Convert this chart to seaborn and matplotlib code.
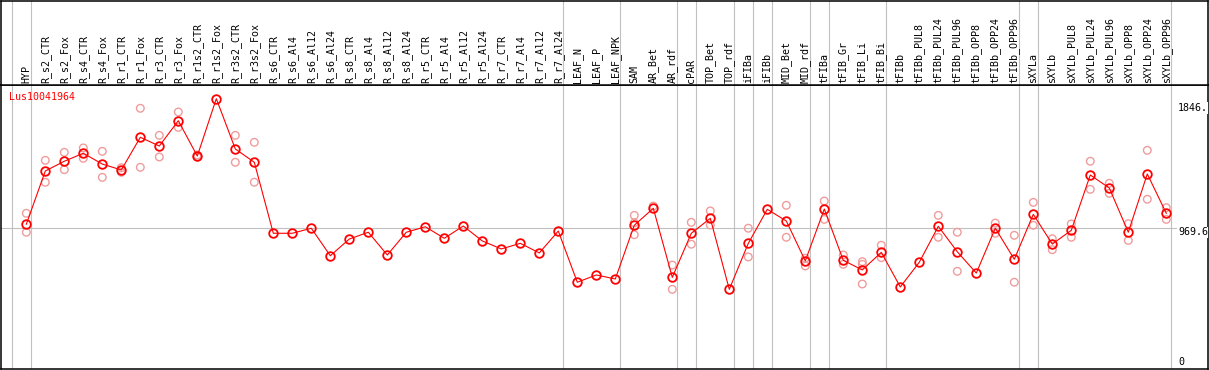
import numpy as np
import pandas as pd
import matplotlib
matplotlib.use("Agg")
import matplotlib.pyplot as plt
import seaborn as sns

# ---------------- data ----------------
categories = [
    "HYP", "R_s2_CTR", "R_s2_Fox", "R_s4_CTR", "R_s4_Fox", "R_r1_CTR", "R_r1_Fox",
    "R_r3_CTR", "R_r3_Fox", "R_r1s2_CTR", "R_r1s2_Fox", "R_r3s2_CTR", "R_r3s2_Fox",
    "R_s6_CTR", "R_s6_Al4", "R_s6_Al12", "R_s6_Al24", "R_s8_CTR", "R_s8_Al4",
    "R_s8_Al12", "R_s8_Al24", "R_r5_CTR", "R_r5_Al4", "R_r5_Al12", "R_r5_Al24",
    "R_r7_CTR", "R_r7_Al4", "R_r7_Al12", "R_r7_Al24", "LEAF_N", "LEAF_P", "LEAF_NPK",
    "SAM", "AR_Bet", "AR_rdf", "cPAR", "TOP_Bet", "TOP_rdf", "iFIBa", "iFIBb",
    "MID_Bet", "MID_rdf", "tFIBa", "tFIB_Gr", "tFIB_Li", "tFIB_Bi", "tFIBb",
    "tFIBb_PUL8", "tFIBb_PUL24", "tFIBb_PUL96", "tFIBb_OPP8", "tFIBb_OPP24",
    "tFIBb_OPP96", "sXYLa", "sXYLb", "sXYLb_PUL8", "sXYLb_PUL24", "sXYLb_PUL96",
    "sXYLb_OPP8", "sXYLb_OPP24", "sXYLb_OPP96",
]

mean_values = [
    997, 1357, 1423, 1477, 1404, 1364, 1585, 1526, 1697, 1458, 1846, 1506, 1416,
    936, 936, 970, 784, 897, 943, 789, 943, 980, 902, 985, 884, 830, 868, 803, 951,
    605, 654, 627,
    990, 1105, 638, 936, 1037, 557, 868, 1098, 1019, 749, 1100, 753, 688, 807, 573,
    740, 983, 811, 667, 970, 760,
    1064, 863, 956, 1330, 1242, 943, 1337, 1071,
]

replicate_values = [
    [1071, 943], [1429, 1281], [1483, 1366], [1513, 1443], [1490, 1314],
    [1379, 1348], [1781, 1382], [1598, 1452], [1756, 1652], [1465, 1452],
    [], [1598, 1416], [1551, 1281],
    [], [], [], [], [], [], [], [], [], [], [], [], [], [], [], [],
    [], [], [],
    [1057, 1007, 926], [1120], [721, 557], [1010, 862], [1087, 992], [],
    [970, 776], [], [1125, 909], [767, 715], [1154, 1030], [789, 726],
    [744, 726, 593], [855, 771], [],
    [], [1057, 909], [943, 679], [], [1005, 936], [922, 605],
    [1145, 990], [899, 825], [999, 909], [1423, 1233], [1274, 1206],
    [1001, 888], [1497, 1166], [1109, 1030],
]

group_ends = ["HYP", "R_r7_Al24", "LEAF_NPK", "AR_rdf", "cPAR", "TOP_rdf", "iFIBa",
              "iFIBb", "MID_rdf", "tFIBa", "tFIB_Bi", "tFIBb_OPP96", "sXYLa",
              "sXYLb_OPP96"]

gene_label = "Lus10041964"
scale_values = [1846, 969.6, 0]
scale_labels = ["1846.", "969.6", "0"]
reference_value = 969.6

# ---------------- frames ----------------
pos = np.arange(len(categories))
df_mean = pd.DataFrame({"pos": pos, "value": mean_values})
rep_pos, rep_val = [], []
for i, reps in enumerate(replicate_values):
    for r in reps:
        rep_pos.append(i)
        rep_val.append(r)
df_rep = pd.DataFrame({"pos": rep_pos, "value": rep_val})

# ---------------- layout ----------------
W, H, DPI = 1209, 370, 100
fig = plt.figure(figsize=(W / DPI, H / DPI), dpi=DPI)
fig.patch.set_facecolor("white")

left_px, right_px, top_px, div_px, bot_px = 1, 1208, 1, 85, 369
ax = fig.add_axes([left_px / W, (H - bot_px) / H, (right_px - left_px) / W, (bot_px - div_px) / H])
hax = fig.add_axes([left_px / W, (H - div_px) / H, (right_px - left_px) / W, (div_px - top_px) / H], sharex=ax)

mono = "DejaVu Sans Mono"
fs = 7.2
grid_c = "#c0c0c0"
pink = "#f09c9c"
red = "#ff0000"

xlim = (-1.332, 62.195)
ylim = (18.3, 1938.5)

# grid lines
for name in group_ends + ["__start__"]:
    if name == "__start__":
        xb = -1 + 0.23
    else:
        xb = categories.index(name) + 0.23
    ax.axvline(xb, color=grid_c, lw=0.8, zorder=0)
    hax.axvline(xb, color=grid_c, lw=0.8, zorder=0)
ax.axhline(reference_value, color=grid_c, lw=0.8, zorder=0)

# replicates
sns.scatterplot(data=df_rep, x="pos", y="value", ax=ax, marker="o", s=30,
                fc="none", ec=pink, linewidth=1.0, zorder=2, legend=False)
# mean line
sns.lineplot(data=df_mean, x="pos", y="value", ax=ax, color=red, linewidth=0.8,
             marker="o", markersize=6.2, markerfacecolor="none",
             markeredgecolor=red, markeredgewidth=1.3, errorbar=None,
             zorder=3, legend=False)

ax.set_xlim(*xlim)
ax.set_ylim(*ylim)
ax.set_xticks([])
ax.set_yticks([])
ax.set_xlabel("")
ax.set_ylabel("")
hax.set_ylim(0, 1)
hax.set_yticks([])
hax.tick_params(axis="x", which="both", bottom=False, labelbottom=False)

for a in (ax, hax):
    a.set_facecolor("white")
    for sp in a.spines.values():
        sp.set_color("black")
        sp.set_linewidth(1.1)

# header labels
for i, name in enumerate(categories):
    hax.annotate(name, xy=(i, 0), xycoords=("data", "axes fraction"),
                 xytext=(0, 2), textcoords="offset pixels", rotation=90,
                 ha="center", va="bottom", fontsize=fs, family=mono, color="black")

# gene label
ax.text((9.3 - left_px) / (right_px - left_px), 1 - (96.7 - div_px) / (bot_px - div_px),
        gene_label, transform=ax.transAxes, ha="left", va="center",
        fontsize=fs, family=mono, color=red)

# right scale labels
offsets = [-9.6, -4.0, 10.0]
for v, lab, off in zip(scale_values, scale_labels, offsets):
    ax.annotate(lab, xy=(1.0, v), xycoords=("axes fraction", "data"),
                xytext=(-(right_px - 1178), off), textcoords="offset pixels",
                ha="left", va="center", fontsize=fs, family=mono, color="black",
                bbox=dict(facecolor="white", edgecolor="none", pad=0.6),
                annotation_clip=False, clip_on=True, zorder=5)

fig.savefig("out.png", dpi=DPI)
